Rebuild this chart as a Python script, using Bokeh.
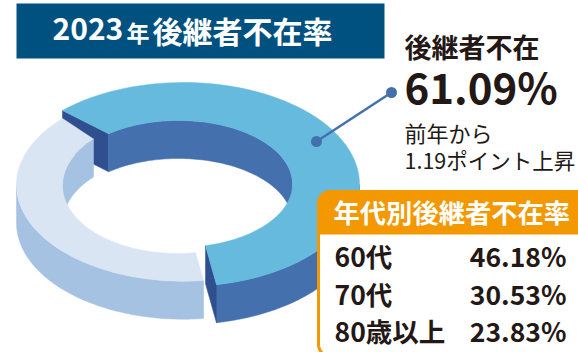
import numpy as np
from bokeh.plotting import figure
from bokeh.models import Range1d
from bokeh.core.properties import value
from bokeh.embed import file_html
from bokeh.resources import INLINE

title_year = "2023"
title_unit = "年"
title_main = "後継者不在率"
slice_names = ["後継者不在", "後継者あり"]
slice_values = [61.09, 38.91]
headline_label = "後継者不在"
headline_value = "61.09%"
note_lines = ["前年から", "1.19ポイント上昇"]
table_title = "年代別後継者不在率"
age_labels = ["60代", "70代", "80歳以上"]
age_values = ["46.18%", "30.53%", "23.83%"]

C_TOP, C_WALL, C_CUT = "#66bade", "#4471ae", "#2f4f8f"
C_LTOP, C_LWALL = "#dae5f3", "#a5c2e2"
C_NAVY, C_ORANGE, C_TEXT = "#00517f", "#f39800", "#231815"
FONT = value("Noto Sans CJK JP")
DEPTH = 38
BASE_SHIFT = 0.44

# projected ellipses: centre, radii, anchor angle, perspective scale of the sweep
B_OUT = dict(cx=183, cy=184, rx=176, ry=102, a0=-79.2, k=0.967)
B_IN = dict(cx=178, cy=183.5, rx=114, ry=63.5, a0=-76.3, k=0.928)
L_OUT = dict(cx=183, cy=184.4, rx=167, ry=96.3, a0=276.9, k=-1.003)
L_IN = dict(cx=177, cy=185, rx=115, ry=68, a0=279.0, k=-1.0144)


def sweep(e, val):
    return e["a0"] + e["k"] * val * 3.6


def arc(e, a, b, dy=0, n=90):
    t = np.radians(np.linspace(a, b, n))
    return e["cx"] + e["rx"] * np.cos(t), e["cy"] - e["ry"] * np.sin(t) + dy


def ring(p, eo, ei, val, color):
    xo, yo = arc(eo, eo["a0"], sweep(eo, val))
    xi, yi = arc(ei, ei["a0"], sweep(ei, val))
    p.patch(np.r_[xo, xi[::-1]], np.r_[yo, yi[::-1]], fill_color=color, line_color=color, line_width=0.5)


def wall(p, e, a, b, color):
    x1, y1 = arc(e, a, b)
    x2, y2 = arc(e, a, b, DEPTH)
    p.patch(np.r_[x1, x2[::-1]], np.r_[y1, y2[::-1]], fill_color=color, line_color=color, line_width=0.5)


def cut(p, eo, ei, ao, ai, color):
    xo, yo = arc(eo, ao, ao, n=1)
    xi, yi = arc(ei, ai, ai, n=1)
    p.patch([xo[0], xi[0], xi[0], xo[0]], [yo[0], yi[0], yi[0] + DEPTH, yo[0] + DEPTH],
            fill_color=color, line_color=color, line_width=0.5)


def label(p, x, y, s, size, color=C_TEXT, style="bold", align="left"):
    p.text([x], [y - BASE_SHIFT * size], text=[s], text_font=FONT, text_font_size=f"{size}px",
           text_font_style=style, text_color=color, text_align=align, text_baseline="alphabetic")


p = figure(width=578, height=352, output_backend="svg", toolbar_location=None,
           x_range=Range1d(0, 578), y_range=Range1d(352, 0), min_border=0,
           outline_line_color=None, background_fill_color="white", border_fill_color="white")
p.axis.visible = False
p.grid.visible = False

blue, light = slice_values

# blue far cut face behind the light slice
cut(p, B_OUT, B_IN, sweep(B_OUT, blue), sweep(B_IN, blue), C_CUT)
# light slice walls and surface
wall(p, L_IN, sweep(L_IN, light), 180, C_LWALL)
wall(p, L_OUT, 180, L_OUT["a0"], C_LWALL)
ring(p, L_OUT, L_IN, light, C_LTOP)
# blue walls, near cut face, surface
wall(p, B_IN, 0, sweep(B_IN, blue), C_WALL)
wall(p, B_OUT, B_OUT["a0"], 0, C_WALL)
cut(p, B_OUT, B_IN, B_OUT["a0"], B_IN["a0"], C_CUT)
ring(p, B_OUT, B_IN, blue, C_TOP)

# title band
p.quad(left=[16], right=[384], top=[3], bottom=[58], fill_color=C_NAVY, line_color=None)
label(p, 52, 42, title_year, 30, "white")
label(p, 126, 42, title_unit, 23, "white")
label(p, 152, 43, title_main, 30, "white")

# leader
p.line([316, 391], [141, 92], line_color=C_WALL, line_width=2.5)
p.scatter([316, 391], [141, 92], size=11, fill_color=C_WALL, line_color=None)

label(p, 404, 58, headline_label, 27)
label(p, 404, 103, headline_value, 42)
label(p, 404, 141, note_lines[0], 22, style="normal")
label(p, 404, 168, note_lines[1], 21.5, style="normal")

# table box
def rounded(x0, y0, x1, y1, r):
    t = np.linspace(0, np.pi / 2, 12)
    xs = np.r_[x0 + r - r * np.cos(t), x1 - r + r * np.sin(t), x1 - r + r * np.cos(t), x0 + r - r * np.sin(t)]
    ys = np.r_[y0 + r - r * np.sin(t), y0 + r - r * np.cos(t), y1 - r + r * np.sin(t), y1 - r + r * np.cos(t)]
    return xs, ys

bx, by = rounded(318, 191, 590, 356, 12)
p.patch(bx, by, fill_color="white", line_color=C_ORANGE, line_width=3)
hx, hy = rounded(317, 190, 591, 234, 12)
hy = np.minimum(hy, 234)
hx = np.where(hy > 225, np.where(hx < 400, 317, 591), hx)
p.patch(hx, hy, fill_color=C_ORANGE, line_color=None)
label(p, 333, 223, table_title, 26.3, "white")
for y, a, v in zip([267, 305, 342], age_labels, age_values):
    label(p, 334, y, a, 26.5)
    label(p, 566, y, v, 26.5, align="right")

open("out.html", "w").write(file_html(p, INLINE))
